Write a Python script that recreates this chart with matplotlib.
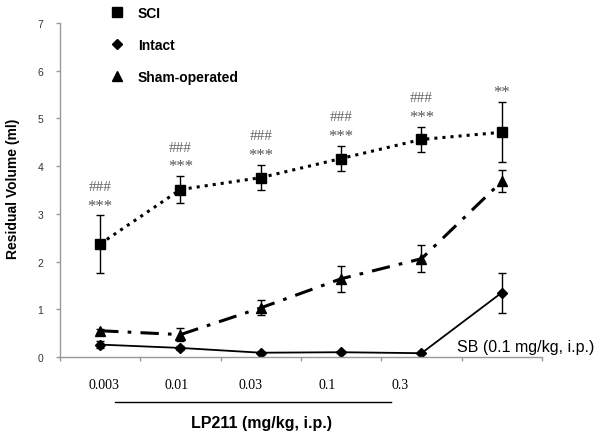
import matplotlib
matplotlib.use("Agg")
import matplotlib.pyplot as plt
from matplotlib.lines import Line2D
import numpy as np

# ---- data ----
groups = ["0.003", "0.01", "0.03", "0.1", "0.3", "SB"]
dose_labels = ["0.003", "0.01", "0.03", "0.1", "0.3"]
sci_mean = [2.37, 3.51, 3.76, 4.16, 4.56, 4.71]
sci_err = [0.60, 0.28, 0.27, 0.27, 0.27, 0.63]
intact_mean = [0.26, 0.19, 0.09, 0.10, 0.08, 1.35]
intact_err = [0.07, 0.04, 0.02, 0.02, 0.02, 0.42]
sham_mean = [0.55, 0.47, 1.03, 1.64, 2.06, 3.68]
sham_err = [0.04, 0.14, 0.16, 0.27, 0.28, 0.23]
stars = ["***", "***", "***", "***", "***", "**"]
hashes = ["###", "###", "###", "###", "###", ""]
yticks = [0, 1, 2, 3, 4, 5, 6, 7]

# label layout (data x positions of the dose labels)
label_x = [0.05, 0.95, 1.87, 2.82, 3.73]

plt.rcParams['font.family'] = ['Liberation Sans', 'DejaVu Sans']
serif = ['Liberation Serif', 'DejaVu Serif']

fig = plt.figure(figsize=(6.0, 4.39), dpi=100)
ax = fig.add_axes([0.1, 0.1845, 0.8033, 0.7608])

x = np.arange(len(groups))

ekw = dict(ecolor='black', elinewidth=1.0, capsize=3, capthick=1.0)
ax.errorbar(x, sci_mean, yerr=sci_err, color='black', linestyle=':', linewidth=2.2,
            marker='s', markersize=6.5, **ekw)
ax.errorbar(x, sham_mean, yerr=sham_err, color='black', linestyle=(0, (6, 3, 1.2, 3)),
            linewidth=2.2, marker='^', markersize=6.5, **ekw)
ax.errorbar(x, intact_mean, yerr=intact_err, color='black', linestyle='-', linewidth=1.3,
            marker='D', markersize=5, **ekw)

# significance marks
for i in range(len(groups)):
    top = sci_mean[i] + sci_err[i]
    ax.annotate(stars[i], (x[i], top), xytext=(0, 7), textcoords='offset points',
                ha='center', va='center', fontsize=12, color='#555555', family=serif)
    if hashes[i]:
        ax.annotate(hashes[i], (x[i], top), xytext=(0, 21), textcoords='offset points',
                    ha='center', va='center', fontsize=11, color='#666666', family=serif)

ax.set_ylim(0, 7)
ax.set_xlim(-0.5, len(groups) - 0.5)
ax.set_yticks(yticks)
ax.set_yticklabels([str(v) for v in yticks], fontsize=7.5, color='#333333')
ax.set_xticks(np.arange(-0.5, len(groups), 1.0))
ax.set_xticklabels([])
ax.tick_params(axis='both', direction='out', length=3, color='#999999', width=1)
ax.tick_params(axis='y', pad=9)
for s in ['top', 'right']:
    ax.spines[s].set_visible(False)
for s in ['left', 'bottom']:
    ax.spines[s].set_color('#999999')
    ax.spines[s].set_linewidth(1.0)

# dose labels
for lx, lab in zip(label_x, dose_labels):
    ax.text(lx, -0.081, lab, transform=ax.get_xaxis_transform(), ha='center', va='center',
            fontsize=10, family=serif)

# bracket line under doses
ax.plot([0.114, 0.687], [-0.135, -0.135], transform=ax.transAxes, color='black',
        linewidth=1.0, clip_on=False)
ax.text(0.419, -0.197, "LP211 (mg/kg, i.p.)", transform=ax.transAxes, ha='center',
        va='center', fontsize=11.5, fontweight='bold')
ax.text(0.824, 0.03, "SB (0.1 mg/kg, i.p.)", transform=ax.transAxes, ha='left',
        va='center', fontsize=11.5, clip_on=False)

fig.text(0.022, 0.571, "Residual Volume (ml)", rotation=90, ha='center', va='center',
         fontsize=10, fontweight='bold')

handles = [Line2D([], [], color='black', marker='s', linestyle='none', markersize=6.5),
           Line2D([], [], color='black', marker='D', linestyle='none', markersize=5.5),
           Line2D([], [], color='black', marker='^', linestyle='none', markersize=6.5)]
leg = fig.legend(handles, ["SCI", "Intact", "Sham-operated"], loc='upper left',
                 bbox_to_anchor=(0.163, 1.012), frameon=False, labelspacing=1.3,
                 handlelength=1.0, handletextpad=1.0, prop={'size': 10, 'weight': 'bold'})

fig.savefig("out.png", dpi=100)
